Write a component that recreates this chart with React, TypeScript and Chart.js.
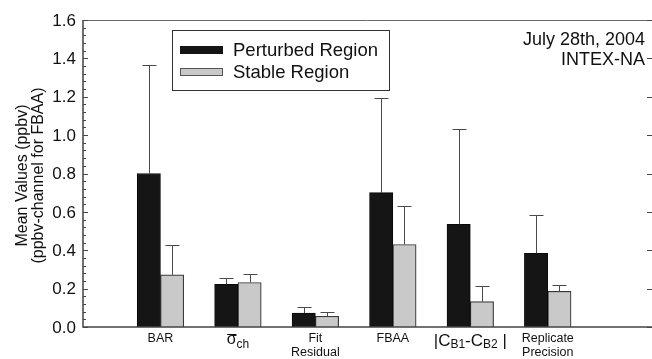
import React, { useEffect, useRef } from 'react';
import { Chart, registerables } from 'chart.js';

Chart.register(...registerables);

type Seg = { t: string; kind?: 'big' | 'sub' | 'sigma' };

// ---- data ----
const categoryLabels: Seg[][][] = [
  [[{ t: 'BAR' }]],
  [[{ t: 'σ', kind: 'sigma' }, { t: 'ch', kind: 'sub' }]],
  [[{ t: 'Fit' }], [{ t: 'Residual' }]],
  [[{ t: 'FBAA' }]],
  [[
    { t: '|', kind: 'big' }, { t: 'C', kind: 'big' }, { t: 'B1', kind: 'sub' },
    { t: '-', kind: 'big' }, { t: 'C', kind: 'big' }, { t: 'B2', kind: 'sub' }, { t: ' |', kind: 'big' },
  ]],
  [[{ t: 'Replicate' }], [{ t: 'Precision' }]],
];
const seriesNames = ['Perturbed Region', 'Stable Region'];
const perturbedValues = [0.80, 0.222, 0.073, 0.70, 0.535, 0.384];
const perturbedErrTop = [1.365, 0.257, 0.104, 1.195, 1.03, 0.585];
const stableValues = [0.272, 0.232, 0.056, 0.43, 0.132, 0.186];
const stableErrTop = [0.425, 0.275, 0.08, 0.633, 0.215, 0.219];
const yTicks = [0.0, 0.2, 0.4, 0.6, 0.8, 1.0, 1.2, 1.4, 1.6];
const yTitleLines = ['Mean Values (ppbv)', '(ppbv-channel for FBAA)'];
const annotationLines = ['July 28th, 2004', 'INTEX-NA'];

const FONT = '"Liberation Sans", Arial, Helvetica, sans-serif';
const BLACK = '#151515';
const GRAY = '#c9c9c9';
const AXIS = '#444444';

const decorPlugin = {
  id: 'decor',
  afterDatasetsDraw(chart: any) {
    const ctx = chart.ctx as CanvasRenderingContext2D;
    const ys = chart.scales.y;
    const errs = [perturbedErrTop, stableErrTop];
    ctx.save();
    ctx.strokeStyle = '#4a4a4a';
    ctx.lineWidth = 1;
    chart.data.datasets.forEach((_: any, di: number) => {
      const meta = chart.getDatasetMeta(di);
      meta.data.forEach((bar: any, i: number) => {
        const x = Math.round(bar.x) + 0.5;
        const yTop = Math.round(ys.getPixelForValue(errs[di][i])) + 0.5;
        ctx.beginPath();
        ctx.moveTo(x, bar.y);
        ctx.lineTo(x, yTop);
        ctx.moveTo(x - 7, yTop);
        ctx.lineTo(x + 7, yTop);
        ctx.stroke();
      });
    });
    ctx.restore();
  },
  afterDraw(chart: any) {
    const ctx = chart.ctx as CanvasRenderingContext2D;
    const { left, right, top, bottom } = chart.chartArea;
    const ys = chart.scales.y;
    const xs = chart.scales.x;
    const W = chart.width;
    ctx.save();
    // frame
    ctx.strokeStyle = AXIS;
    ctx.lineWidth = 1.5;
    ctx.beginPath();
    ctx.moveTo(left, top);
    ctx.lineTo(left, bottom);
    ctx.lineTo(W, bottom);
    ctx.stroke();
    ctx.lineWidth = 1;
    ctx.strokeStyle = '#666';
    ctx.beginPath();
    ctx.moveTo(left, top + 0.5);
    ctx.lineTo(W, top + 0.5);
    ctx.stroke();
    // ticks
    ctx.strokeStyle = AXIS;
    ctx.lineWidth = 1;
    for (let k = 0; k <= 40; k++) {
      const v = k * 0.04;
      const y = Math.round(ys.getPixelForValue(v)) + 0.5;
      const major = k % 5 === 0;
      ctx.beginPath();
      ctx.moveTo(left, y);
      ctx.lineTo(left + (major ? 5 : 3), y);
      ctx.stroke();
      if (major) {
        ctx.beginPath();
        ctx.moveTo(right - 3, y);
        ctx.lineTo(W, y);
        ctx.stroke();
      }
    }
    // y tick labels
    ctx.fillStyle = '#111';
    ctx.font = `17px ${FONT}`;
    ctx.textAlign = 'right';
    ctx.textBaseline = 'middle';
    yTicks.forEach((v) => {
      ctx.fillText(v.toFixed(1), 76, ys.getPixelForValue(v) + 1);
    });
    // y title
    ctx.save();
    ctx.translate(0, (top + bottom) / 2 + 2);
    ctx.rotate(-Math.PI / 2);
    ctx.textAlign = 'center';
    ctx.textBaseline = 'alphabetic';
    ctx.font = `16px ${FONT}`;
    ctx.fillText(yTitleLines[0], 0, 27);
    ctx.fillText(yTitleLines[1], 0, 43);
    ctx.restore();
    // x labels
    const fontFor = (kind?: string) =>
      kind === 'big' ? `17px ${FONT}` : kind === 'sigma' ? `16px ${FONT}` : kind === 'sub' ? `12px ${FONT}` : `12.5px ${FONT}`;
    const baseFor = (kind?: string, line = 0) =>
      kind === 'big' ? 346 : kind === 'sigma' ? 344 : kind === 'sub' ? 348 : 342 + line * 14;
    ctx.textAlign = 'left';
    ctx.textBaseline = 'alphabetic';
    ctx.strokeStyle = '#111';
    categoryLabels.forEach((lines, i) => {
      const cx = xs.getPixelForValue(i + 1);
      lines.forEach((segs, li) => {
        let total = 0;
        const widths = segs.map((s) => {
          ctx.font = fontFor(s.kind);
          const w = ctx.measureText(s.t).width;
          total += w;
          return w;
        });
        let x = cx - total / 2;
        segs.forEach((s, si) => {
          ctx.font = fontFor(s.kind);
          ctx.fillText(s.t, x, baseFor(s.kind, li));
          if (s.kind === 'sigma') {
            ctx.beginPath();
            ctx.lineWidth = 1;
            ctx.moveTo(x + 0.5, 334.5);
            ctx.lineTo(x + widths[si], 334.5);
            ctx.stroke();
          }
          x += widths[si];
        });
      });
    });
    // legend
    ctx.strokeStyle = '#333';
    ctx.lineWidth = 1;
    ctx.strokeRect(172.5, 30.5, 217, 60);
    ctx.fillStyle = BLACK;
    ctx.fillRect(180, 46, 43, 8);
    ctx.fillStyle = GRAY;
    ctx.fillRect(180, 68, 43, 8);
    ctx.strokeStyle = '#555';
    ctx.strokeRect(180.5, 68.5, 42, 7);
    ctx.fillStyle = '#111';
    ctx.font = `18.5px ${FONT}`;
    ctx.textAlign = 'left';
    ctx.textBaseline = 'alphabetic';
    ctx.fillText(seriesNames[0], 233, 56);
    ctx.fillText(seriesNames[1], 233, 78);
    // annotation
    ctx.font = `18px ${FONT}`;
    ctx.textAlign = 'right';
    ctx.fillText(annotationLines[0], 645, 45);
    ctx.fillText(annotationLines[1], 645, 65);
    ctx.restore();
  },
};

export default function App() {
  const ref = useRef<HTMLCanvasElement | null>(null);
  useEffect(() => {
    if (!ref.current) return;
    const chart = new Chart(ref.current, {
      type: 'bar',
      data: {
        datasets: [
          {
            label: seriesNames[0],
            data: perturbedValues.map((v, i) => ({ x: i + 1, y: v })),
            backgroundColor: BLACK,
            borderColor: '#0a0a0a',
            borderWidth: 1,
          },
          {
            label: seriesNames[1],
            data: stableValues.map((v, i) => ({ x: i + 1, y: v })),
            backgroundColor: GRAY,
            borderColor: '#3a3a3a',
            borderWidth: 1.2,
          },
        ],
      } as any,
      options: {
        responsive: false,
        animation: false,
        layout: { padding: { left: 83, top: 20, right: 2, bottom: 32 } },
        datasets: { bar: { barThickness: 23.3 } } as any,
        plugins: { legend: { display: false }, tooltip: { enabled: false } },
        scales: {
          x: { type: 'linear', min: 0, max: 7.32, offset: false, display: false },
          y: { min: 0, max: 1.6, display: false },
        },
      },
      plugins: [decorPlugin],
    });
    return () => chart.destroy();
  }, []);
  return (
    <div style={{ position: 'absolute', left: 0, top: 0, width: 652, height: 359, background: '#fff' }}>
      <canvas ref={ref} width={652} height={359} style={{ width: 652, height: 359, display: 'block' }} />
    </div>
  );
}
